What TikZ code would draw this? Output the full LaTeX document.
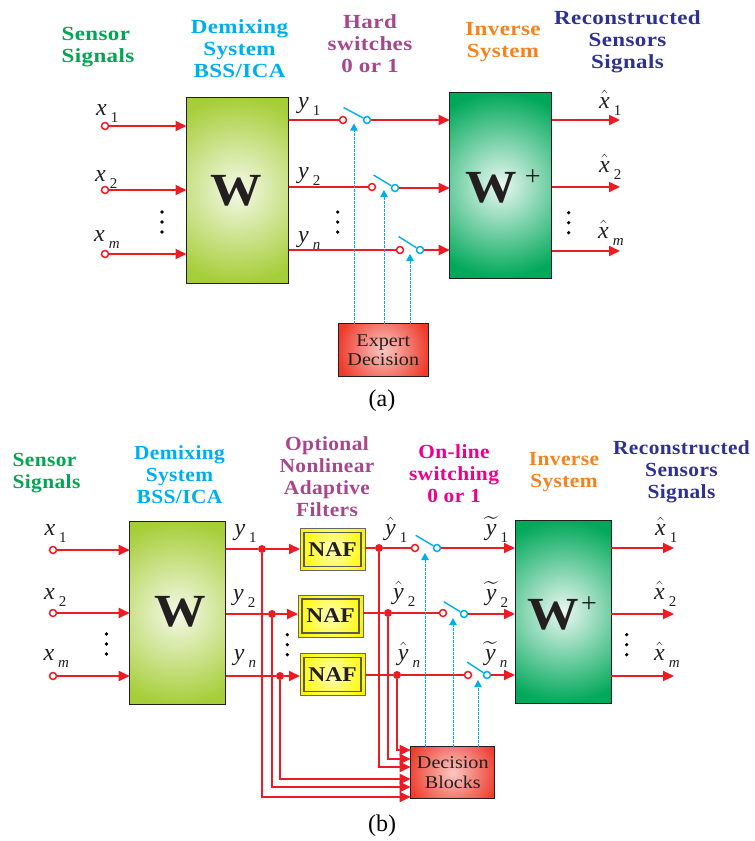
\documentclass[tikz,border=0pt]{standalone}
\usepackage{fontspec}
\usepackage{amsmath}
\setmainfont{Liberation Serif}
\newfontfamily\headfont[FakeStretch=1.15,LetterSpace=2]{Liberation Serif}
\newfontfamily\headfontb[FakeStretch=1.07,LetterSpace=2]{Liberation Serif}
\newfontfamily\wordfont[FakeStretch=1.12]{Liberation Serif}
\usetikzlibrary{arrows.meta}

\definecolor{sigred}{HTML}{ED1C24}
\definecolor{ctlblue}{HTML}{00AEEF}
\definecolor{sensorgreen}{HTML}{00A651}
\definecolor{hardpurple}{HTML}{A8468C}
\definecolor{onlinepink}{HTML}{EC008C}
\definecolor{inverseorange}{HTML}{F58220}
\definecolor{reconblue}{HTML}{2E3192}
\definecolor{wgreen}{HTML}{A6CE39}
\definecolor{wplusgreen}{HTML}{00A85A}
\definecolor{decisred}{HTML}{EE3B2C}
\definecolor{inkdark}{HTML}{231F20}

\newcommand{\sigl}[2]{#1\,\raisebox{-0.3em}{\fontsize{15}{15}\selectfont #2}}
\newcommand{\dotcol}[2]{\fill[black] (#1,#2-10) circle (1.8pt) (#1,#2) circle (1.8pt) (#1,#2+10) circle (1.8pt);}

\tikzset{
  gradbox/.style n args={3}{draw=inkdark,line width=0.8pt,inner sep=0pt,outer sep=0pt,fill=#2,
    path picture={\shade[inner color=#1,outer color=#2] (path picture bounding box.center) circle (#3);}},
  wblockA/.style={gradbox={white!88!wgreen}{wgreen}{93pt},minimum width=102pt,minimum height=186pt},
  wblockB/.style={gradbox={white!88!wgreen}{wgreen}{92pt},minimum width=96pt,minimum height=183pt},
  wplusA/.style={gradbox={white!92!wplusgreen}{wplusgreen}{93pt},minimum width=102pt,minimum height=186pt},
  wplusB/.style={gradbox={white!92!wplusgreen}{wplusgreen}{92pt},minimum width=96pt,minimum height=183pt},
  decisbox/.style={gradbox={white!72!decisred}{decisred}{46pt},font=\wordfont\fontsize{18}{19.5}\selectfont,text=inkdark,align=center},
  nafbox/.style={draw=black!60,line width=1pt,inner sep=0pt,outer sep=0pt,fill=yellow,minimum width=65pt,minimum height=42pt,
    font=\wordfont\bfseries\fontsize{21}{21}\selectfont,text=inkdark,
    path picture={
      \shade[inner color=yellow!25,outer color=yellow!95!orange] (path picture bounding box.center) circle (33pt);
      \draw[draw=black!65,line width=1.2pt]
        ([xshift=4pt,yshift=4pt]path picture bounding box.south west)
        rectangle
        ([xshift=-4pt,yshift=-4pt]path picture bounding box.north east);}},
  headtext/.style={inner sep=0pt,align=center,font=\headfont\bfseries\fontsize{20}{22}\selectfont},
  headtextb/.style={inner sep=0pt,align=center,font=\headfontb\bfseries\fontsize{20}{22}\selectfont},
  bigw/.style={inner sep=0pt,text=inkdark,font=\wordfont\bfseries\fontsize{46}{46}\selectfont},
  plussign/.style={inner sep=0pt,text=inkdark,font=\fontsize{28}{28}\selectfont},
  siglabel/.style={inner sep=0pt,anchor=base west,text=inkdark,font=\itshape\fontsize{24}{24}\selectfont},
  capt/.style={inner sep=0pt,text=black,font=\fontsize{24}{24}\selectfont},
  port/.style={circle,draw=#1,fill=white,line width=1.5pt,inner sep=0pt,minimum size=7pt},
  junction/.style={circle,fill=sigred,inner sep=0pt,minimum size=8pt},
  sigline/.style={draw=sigred,line width=1.9pt},
  sigarrow/.style={sigline,-{Triangle[length=11pt,width=10pt]}},
  swarm/.style={draw=ctlblue,line width=1.4pt},
  ctlarrow/.style={draw=ctlblue,line width=1pt,dashed,dash pattern=on 2.5pt off 1.5pt,-{Triangle[length=7pt,width=7.5pt]}}
}

\begin{document}
\begin{tikzpicture}[x=1pt,y=-1pt]
  \useasboundingbox (0,0) rectangle (755,841);

  % part (a)
  \node[headtext,text=sensorgreen,align=left] (headA1) at (98,47) {Sensor\\Signals};
  \node[headtext,text=ctlblue] (headA2) at (239.5,49) {Demixing\\System\\BSS/ICA};
  \node[headtext,text=hardpurple] (headA3) at (370,44) {Hard\\switches\\0 or 1};
  \node[headtext,text=inverseorange] (headA4) at (503,42) {Inverse\\System};
  \node[headtext,text=reconblue] (headA5) at (627.5,42) {Reconstructed\\Sensors\\Signals};

  \node[wblockA] (wA) at (237.5,190) {};
  \node[wplusA] (wpA) at (500.7,185) {};
  \node[bigw] (wtextA) at (236.5,191) {W};
  \node[bigw] (wptextA) at (491.7,188) {W};
  \node[plussign] (plusA) at (532.7,178) {+};
  \node[decisbox,minimum width=90pt,minimum height=53pt] (expertA) at (383.3,350) {Expert\\Decision};

  \node[port=sigred] (inA1) at (105,126) {};
  \node[port=sigred] (inA2) at (105,190) {};
  \node[port=sigred] (inA3) at (105,254) {};
  \node[siglabel] (xA1) at (96,115) {\sigl{x}{\normalfont 1}};
  \node[siglabel] (xA2) at (95,181) {\sigl{x}{\normalfont 2}};
  \node[siglabel] (xA3) at (94,241) {\sigl{x}{\textit{m}}};
  \draw[sigarrow]
    (inA1)
    --
    (inA1 -| wA.west);
  \draw[sigarrow]
    (inA2)
    --
    (inA2 -| wA.west);
  \draw[sigarrow]
    (inA3)
    --
    (inA3 -| wA.west);

  \node[siglabel] (yA1) at (298,108) {\sigl{y}{\normalfont 1}};
  \node[siglabel] (yA2) at (298,178) {\sigl{y}{\normalfont 2}};
  \node[siglabel] (yA3) at (298,242) {\sigl{y}{\textit{n}}};

  \node[port=sigred] (swrA1) at (343,120) {};
  \node[port=ctlblue] (swbA1) at (367,120) {};
  \node[port=sigred] (swrA2) at (372,187) {};
  \node[port=ctlblue] (swbA2) at (395,188) {};
  \node[port=sigred] (swrA3) at (400,250) {};
  \node[port=ctlblue] (swbA3) at (420,250) {};
  \coordinate (armA1) at (343.5,107.5);
  \coordinate (armA2) at (373.5,175);
  \coordinate (armA3) at (398.5,236.5);
  \draw[swarm] (armA1) -- (swbA1);
  \draw[swarm] (armA2) -- (swbA2);
  \draw[swarm] (armA3) -- (swbA3);
  \draw[sigline]
    (swrA1 -| wA.east)
    --
    (swrA1);
  \draw[sigline]
    (swrA2 -| wA.east)
    --
    (swrA2);
  \draw[sigline]
    (swrA3 -| wA.east)
    --
    (swrA3);
  \draw[sigarrow]
    (swbA1)
    --
    (swbA1 -| wpA.west);
  \draw[sigarrow]
    (swbA2)
    --
    (swbA2 -| wpA.west);
  \draw[sigarrow]
    (swbA3)
    --
    (swbA3 -| wpA.west);

  \coordinate (tipA1) at (354,123.5);
  \coordinate (tipA2) at (384,190);
  \coordinate (tipA3) at (410,254);
  \draw[ctlarrow]
    (tipA1 |- expertA.north)
    --
    (tipA1);
  \draw[ctlarrow]
    (tipA2 |- expertA.north)
    --
    (tipA2);
  \draw[ctlarrow]
    (tipA3 |- expertA.north)
    --
    (tipA3);

  \coordinate (outA1) at (620,120);
  \coordinate (outA2) at (620,187);
  \coordinate (outA3) at (620,251);
  \draw[sigarrow]
    (outA1 -| wpA.east)
    --
    (outA1);
  \draw[sigarrow]
    (outA2 -| wpA.east)
    --
    (outA2);
  \draw[sigarrow]
    (outA3 -| wpA.east)
    --
    (outA3);
  \node[siglabel] (xhA1) at (599,108) {\sigl{$\hat{\textit{x}}$}{\normalfont 1}};
  \node[siglabel] (xhA2) at (599,172) {\sigl{$\hat{\textit{x}}$}{\normalfont 2}};
  \node[siglabel] (xhA3) at (598,238) {\sigl{$\hat{\textit{x}}$}{\textit{m}}};

  \dotcol{162}{222}
  \dotcol{337.7}{222}
  \dotcol{568.7}{222.7}
  \node[capt] (captA) at (382,401) {(a)};

  % part (b)
  \node[headtextb,text=sensorgreen,align=left] (headB1) at (46.5,473) {Sensor\\Signals};
  \node[headtextb,text=ctlblue] (headB2) at (179.5,475) {Demixing\\System\\BSS/ICA};
  \node[headtextb,text=hardpurple] (headB3) at (327,477) {Optional\\Nonlinear\\Adaptive\\Filters};
  \node[headtextb,text=onlinepink] (headB4) at (454,474) {On-line\\switching\\0 or 1};
  \node[headtextb,text=inverseorange] (headB5) at (564,472) {Inverse\\System};
  \node[headtextb,text=reconblue] (headB6) at (681.5,472) {Reconstructed\\Sensors\\Signals};

  \node[wblockB] (wB) at (177.7,612.8) {};
  \node[wplusB] (wpB) at (563,611.5) {};
  \node[bigw] (wtextB) at (180,612) {W};
  \node[bigw] (wptextB) at (553,615) {W};
  \node[plussign] (plusB) at (589,605) {+};
  \node[nafbox] (nafB1) at (332.5,549.3) {NAF};
  \node[nafbox] (nafB2) at (330.5,616) {NAF};
  \node[nafbox] (nafB3) at (332.5,674.3) {NAF};
  \node[decisbox,minimum width=84pt,minimum height=52pt] (decisB) at (452.8,772.7) {Decision\\Blocks};

  \node[port=sigred] (inB1) at (53,550) {};
  \node[port=sigred] (inB2) at (53,613) {};
  \node[port=sigred] (inB3) at (53,676) {};
  \node[siglabel] (xB1) at (44.3,535) {\sigl{x}{\normalfont 1}};
  \node[siglabel] (xB2) at (44,599) {\sigl{x}{\normalfont 2}};
  \node[siglabel] (xB3) at (43.3,660) {\sigl{x}{\textit{m}}};
  \draw[sigarrow]
    (inB1)
    --
    (inB1 -| wB.west);
  \draw[sigarrow]
    (inB2)
    --
    (inB2 -| wB.west);
  \draw[sigarrow]
    (inB3)
    --
    (inB3 -| wB.west);

  \node[siglabel] (yB1) at (234.3,535) {\sigl{y}{\normalfont 1}};
  \node[siglabel] (yB2) at (233,600) {\sigl{y}{\normalfont 2}};
  \node[siglabel] (yB3) at (233.7,660) {\sigl{y}{\textit{n}}};

  \node[junction] (jyB1) at (262,549) {};
  \node[junction] (jyB2) at (272,614) {};
  \node[junction] (jyB3) at (280,676) {};
  \draw[sigline]
    (jyB1 -| wB.east)
    --
    (jyB1);
  \draw[sigline]
    (jyB2 -| wB.east)
    --
    (jyB2);
  \draw[sigline]
    (jyB3 -| wB.east)
    --
    (jyB3);
  \draw[sigarrow]
    (jyB1)
    --
    (jyB1 -| nafB1.west);
  \draw[sigarrow]
    (jyB2)
    --
    (jyB2 -| nafB2.west);
  \draw[sigarrow]
    (jyB3)
    --
    (jyB3 -| nafB3.west);

  \node[junction] (jhB1) at (379,548) {};
  \node[junction] (jhB2) at (388,613) {};
  \node[junction] (jhB3) at (397,675) {};
  \node[port=sigred] (swrB1) at (415,548) {};
  \node[port=ctlblue] (swbB1) at (437,548) {};
  \node[port=sigred] (swrB2) at (443,613) {};
  \node[port=ctlblue] (swbB2) at (464,614) {};
  \node[port=sigred] (swrB3) at (468,675) {};
  \node[port=ctlblue] (swbB3) at (487,675) {};
  \coordinate (armB1) at (415.7,535.3);
  \coordinate (armB2) at (443.7,601.7);
  \coordinate (armB3) at (467,662);
  \draw[swarm] (armB1) -- (swbB1);
  \draw[swarm] (armB2) -- (swbB2);
  \draw[swarm] (armB3) -- (swbB3);
  \draw[sigline]
    (jhB1 -| nafB1.east)
    --
    (jhB1)
    --
    (swrB1);
  \draw[sigline]
    (jhB2 -| nafB2.east)
    --
    (jhB2)
    --
    (swrB2);
  \draw[sigline]
    (jhB3 -| nafB3.east)
    --
    (jhB3)
    --
    (swrB3);
  \draw[sigarrow]
    (swbB1)
    --
    (swbB1 -| wpB.west);
  \draw[sigarrow]
    (swbB2)
    --
    (swbB2 -| wpB.west);
  \draw[sigarrow]
    (swbB3)
    --
    (swbB3 -| wpB.west);

  \node[siglabel] (yhB1) at (385,535) {\sigl{$\hat{\textit{y}}$}{\normalfont 1}};
  \node[siglabel] (yhB2) at (393,599) {\sigl{$\hat{\textit{y}}$}{\normalfont 2}};
  \node[siglabel] (yhB3) at (397.7,660) {\sigl{$\hat{\textit{y}}$}{\textit{n}}};
  \node[siglabel] (ytB1) at (485.7,535) {\sigl{$\widetilde{\textit{y}}$}{\normalfont 1}};
  \node[siglabel] (ytB2) at (485.7,600) {\sigl{$\widetilde{\textit{y}}$}{\normalfont 2}};
  \node[siglabel] (ytB3) at (485,660) {\sigl{$\widetilde{\textit{y}}$}{\textit{n}}};

  \coordinate (dinB1) at (410.7,797);
  \coordinate (dinB2) at (410.7,787);
  \coordinate (dinB3) at (410.7,779);
  \coordinate (dinB4) at (410.7,767);
  \coordinate (dinB5) at (410.7,759);
  \coordinate (dinB6) at (410.7,750);
  \draw[sigarrow]
    (jyB1)
    |-
    (dinB1);
  \draw[sigarrow]
    (jyB2)
    |-
    (dinB2);
  \draw[sigarrow]
    (jyB3)
    |-
    (dinB3);
  \draw[sigarrow]
    (jhB1)
    |-
    (dinB4);
  \draw[sigarrow]
    (jhB2)
    |-
    (dinB5);
  \draw[sigarrow]
    (jhB3)
    |-
    (dinB6);

  \coordinate (tipB1) at (425,553);
  \coordinate (tipB2) at (453,618);
  \coordinate (tipB3) at (478,680);
  \draw[ctlarrow]
    (tipB1 |- decisB.north)
    --
    (tipB1);
  \draw[ctlarrow]
    (tipB2 |- decisB.north)
    --
    (tipB2);
  \draw[ctlarrow]
    (tipB3 |- decisB.north)
    --
    (tipB3);

  \coordinate (outB1) at (674,548);
  \coordinate (outB2) at (674,614);
  \coordinate (outB3) at (674,676);
  \draw[sigarrow]
    (outB1 -| wpB.east)
    --
    (outB1);
  \draw[sigarrow]
    (outB2 -| wpB.east)
    --
    (outB2);
  \draw[sigarrow]
    (outB3 -| wpB.east)
    --
    (outB3);
  \node[siglabel] (xhB1) at (655,535) {\sigl{$\hat{\textit{x}}$}{\normalfont 1}};
  \node[siglabel] (xhB2) at (654,599) {\sigl{$\hat{\textit{x}}$}{\normalfont 2}};
  \node[siglabel] (xhB3) at (654,660) {\sigl{$\hat{\textit{x}}$}{\textit{m}}};

  \dotcol{106.5}{644}
  \dotcol{287.3}{644.7}
  \dotcol{626.7}{644.7}
  \node[capt] (captB) at (382,826) {(b)};
\end{tikzpicture}
\end{document}
